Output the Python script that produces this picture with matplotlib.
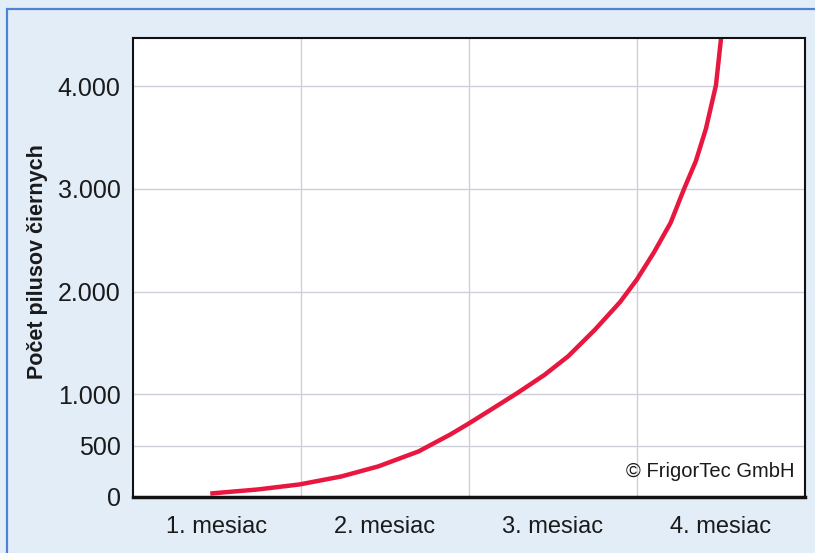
import matplotlib.pyplot as plt
from matplotlib.patches import Rectangle
from matplotlib.ticker import FuncFormatter

# values (month position, count)
months = [0.46, 0.74, 0.99, 1.24, 1.46, 1.70, 1.89, 1.99, 2.13, 2.29, 2.45,
          2.59, 2.75, 2.90, 3.00, 3.10, 3.20, 3.28, 3.35, 3.41, 3.47, 3.50]
counts = [34, 73, 122, 200, 298, 444, 610, 707, 850, 1015, 1190,
          1370, 1630, 1900, 2120, 2380, 2670, 3000, 3270, 3585, 4010, 4463]

month_labels = ['1. mesiac', '2. mesiac', '3. mesiac', '4. mesiac']
y_ticks = [0, 500, 1000, 2000, 3000, 4000]

plt.rcParams['font.family'] = ['Liberation Sans', 'DejaVu Sans']

bg = '#e3edf8'
fig = plt.figure(figsize=(8.15, 5.53), dpi=100, facecolor=bg)

# blue frame line round the figure
fig.patches.append(Rectangle((7 / 815, -0.1), 1.2, (553 - 9) / 553 + 0.1,
                             transform=fig.transFigure, fill=False,
                             edgecolor='#4d83d6', linewidth=1.6))

ax = fig.add_axes([133 / 815, 56 / 553, 672 / 815, 459 / 553])
ax.set_facecolor('white')

ax.plot(months, counts, color='#e8173f', linewidth=3.2,
        solid_capstyle='butt', solid_joinstyle='round')

ax.set_xlim(0, 4)
ax.set_ylim(0, 4470)

ax.set_xticks([1, 2, 3])
ax.set_xticklabels([])
ax.set_xticks([0.5, 1.5, 2.5, 3.5], minor=True)
ax.set_xticklabels(month_labels, minor=True)
ax.set_yticks(y_ticks)
ax.yaxis.set_major_formatter(FuncFormatter(lambda v, p: f'{int(v):,}'.replace(',', '.')))

ax.tick_params(axis='x', which='both', length=0, pad=14, labelsize=17, colors='#1a1a1a')
ax.tick_params(axis='y', length=0, pad=9, labelsize=18, colors='#1a1a1a')

ax.grid(True, which='major', color='#cfcfdc', linewidth=1)
ax.set_axisbelow(True)

for side in ['left', 'top', 'right']:
    ax.spines[side].set_linewidth(1.5)
    ax.spines[side].set_color('#111111')
ax.spines['bottom'].set_linewidth(2.5)
ax.spines['bottom'].set_color('#111111')

fig.text(38 / 815, 1 - 262 / 553, 'Počet pilusov čiernych', rotation=90,
         ha='center', va='center', fontsize=15.5, fontweight='bold', color='#1a1a1a')

ax.text(0.985, 0.055, '© FrigorTec GmbH', transform=ax.transAxes,
        ha='right', va='center', fontsize=14.5, color='#1a1a1a')

fig.savefig('out.png', dpi=100, facecolor=bg)
